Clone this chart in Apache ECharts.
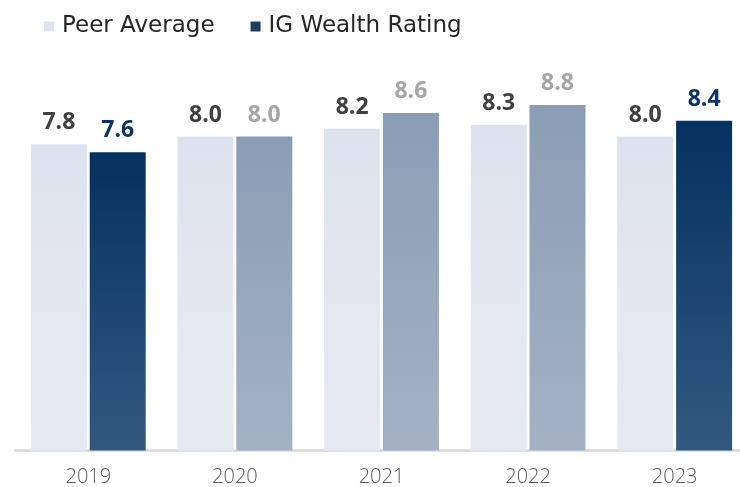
<!DOCTYPE html>
<html><head><meta charset="utf-8">
<script src="https://cdn.jsdelivr.net/npm/echarts@6/dist/echarts.min.js"></script>
<style>html,body{margin:0;padding:0;background:#fff}#c{width:740px;height:487px}</style>
</head><body><div id="c"></div>
<script>
const categories = ['2019','2020','2021','2022','2023'];
const peerAverage = [7.8, 8.0, 8.2, 8.3, 8.0];
const igWealth = [7.6, 8.0, 8.6, 8.8, 8.4];
const igHighlight = [true, false, false, false, true];

const FONT = '"Open Sans", "Noto Sans", sans-serif';
const peerColor = {type:'linear',x:0,y:0,x2:0,y2:1,colorStops:[{offset:0,color:'#dde3ee'},{offset:1,color:'#e6eaf2'}]};
const darkColor = {type:'linear',x:0,y:0,x2:0,y2:1,colorStops:[{offset:0,color:'#05305f'},{offset:1,color:'#33597f'}]};
const greyColor = {type:'linear',x:0,y:0,x2:0,y2:1,colorStops:[{offset:0,color:'#8b9db5'},{offset:1,color:'#a4b2c4'}]};

const chart = echarts.init(document.getElementById('c'));
chart.setOption({
  animation:false,
  textStyle:{fontFamily:FONT},
  legend:{
    left:39, top:10, itemWidth:10, itemHeight:10, itemGap:36,
    icon:'rect',
    textStyle:{fontFamily:'"DejaVu Sans", sans-serif', fontSize:23, color:'#262626', padding:[0,0,0,3]},
    data:[{name:'Peer Average', itemStyle:{color:'#dfe5ef'}},{name:'IG Wealth Rating', itemStyle:{color:'#1e3e5e'}}]
  },
  grid:{left:15, width:733, top:58, bottom:36.5, containLabel:false, outerBoundsMode:'none'},
  xAxis:{
    type:'category', data:categories,
    axisLine:{lineStyle:{color:'#d9d9d9', width:2.5}},
    axisTick:{show:false},
    axisLabel:{fontFamily:FONT, fontSize:20, color:'#595959', fontWeight:300, margin:17}
  },
  yAxis:{type:'value', min:0, max:10, show:false, splitLine:{show:false}},
  series:[
    {
      name:'Peer Average', type:'bar', barWidth:56, barGap:'5%',
      itemStyle:{color:peerColor},
      label:{show:true, position:'top', distance:10, fontFamily:FONT, fontSize:23, fontWeight:'bold', color:'#404040', formatter:p=>p.value.toFixed(1)},
      data:peerAverage
    },
    {
      name:'IG Wealth Rating', type:'bar', barWidth:56,
      data:igWealth.map((v,i)=>({
        value:v,
        itemStyle:{color: igHighlight[i]?darkColor:greyColor},
        label:{color: igHighlight[i]?'#0b3366':'#a6a6a6'}
      })),
      label:{show:true, position:'top', distance:10, fontFamily:FONT, fontSize:23, fontWeight:'bold', formatter:p=>p.value.toFixed(1)}
    }
  ]
});
</script></body></html>
